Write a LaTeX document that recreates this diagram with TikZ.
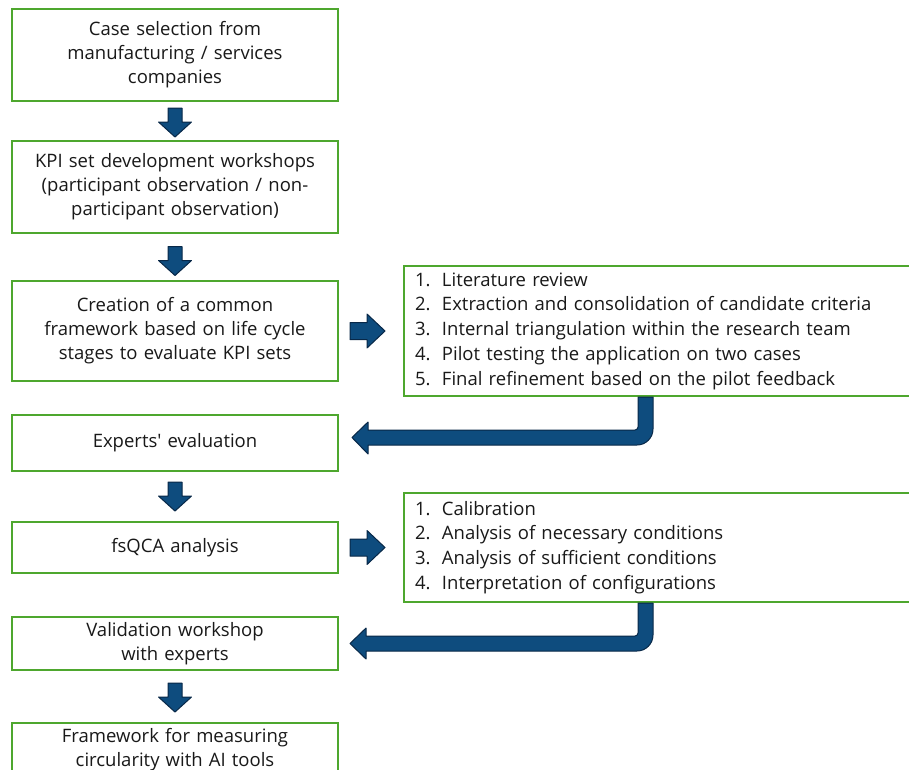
\documentclass[tikz,border=0pt]{standalone}
\usepackage{fontspec}
\setmainfont{Open Sans}
\usetikzlibrary{calc}
\definecolor{boxgreen}{RGB}{78,167,46}
\definecolor{arrblue}{RGB}{14,76,126}
\definecolor{arrline}{RGB}{8,40,72}
\definecolor{txt}{RGB}{25,25,25}
\tikzset{
  lbox/.style={draw=boxgreen, line width=2pt, fill=white, minimum width=326pt, text width=316pt,
    align=center, inner xsep=5pt, inner ysep=0pt, text=txt, font=\fontsize{18.5}{24}\selectfont},
  rbox/.style={draw=boxgreen, line width=2pt, fill=white, text width=488pt, inner xsep=11pt,
    inner ysep=0pt, align=left, text=txt, font=\fontsize{18.5}{24.75}\selectfont},
  blk/.style={fill=arrblue, draw=arrline, line width=1pt, line join=round}
}
\newcommand\itm[1]{\makebox[27pt][l]{#1}}
\newcommand\downblk[3]{%
  \path[blk] ($(#1.south)!0.5!(#2.north)+(0,#3)$) ++(-7,14.5) -- ++(14,0) -- ++(0,-14) -- ++(9.5,0)
    -- ++(-16.5,-15) -- ++(-16.5,15) -- ++(9.5,0) -- cycle;}
\newcommand\rightblk[3]{%
  \path[blk] ($(#1.east)!0.5!(#2.west)+(#3,0)$) ++(-17.5,8.5) -- ++(17,0) -- ++(0,8.5) -- ++(18,-17)
    -- ++(-18,-17) -- ++(0,8.5) -- ++(-17,0) -- cycle;}
\begin{document}
\begin{tikzpicture}[x=1pt,y=1pt]
\useasboundingbox (0,0) rectangle (909,-769);
% left column
\node[lbox, minimum height=92pt] (b1) at (175,-55) {Case selection from\\manufacturing / services\\companies};
\node[lbox, minimum height=92pt] (b2) at (175,-187) {KPI set development workshops\\(participant observation / non-\\participant observation)};
\node[lbox, minimum height=100pt] (b3) at (175,-331) {Creation of a common\\framework based on life cycle\\stages to evaluate KPI sets};
\node[lbox, minimum height=56pt] (b4) at (175,-443) {Experts\textquotesingle{} evaluation};
\node[lbox, minimum height=51pt] (b5) at (175,-547.5) {fsQCA analysis};
\node[lbox, minimum height=53pt] (b6) at (175,-643.5) {Validation workshop\\with experts};
\node[lbox, minimum height=54pt] (b7) at (175,-750) {Framework for measuring\\circularity with AI tools};
% right column
\node[rbox, minimum height=130pt] (ra) at (659,-331) {\itm{1.}Literature review\\\itm{2.}Extraction and consolidation of candidate criteria\\\itm{3.}Internal triangulation within the research team\\\itm{4.}Pilot testing the application on two cases\\\itm{5.}Final refinement based on the pilot feedback};
\node[rbox, minimum height=109pt] (rb) at (659,-547.5) {\itm{1.}Calibration\\\itm{2.}Analysis of necessary conditions\\\itm{3.}Analysis of sufficient conditions\\\itm{4.}Interpretation of configurations};
% down arrows
\downblk{b1}{b2}{-1.5}
\downblk{b2}{b3}{-4}
\downblk{b4}{b5}{0}
\downblk{b6}{b7}{-1}
% right arrows
\rightblk{b3}{ra}{-3.5}
\rightblk{b5}{rb}{-3.5}
% bent arrows
\path[blk] (ra.south -| 638,0) -- (ra.south -| 653,0) -- (653,-429) arc[start angle=0,end angle=-90,radius=16pt]
  -- (368,-445) -- (368,-454) -- (352,-437.5) -- (368,-422) -- (368,-430) -- (635,-430)
  arc[start angle=-90,end angle=0,radius=3pt] -- cycle;
\path[blk] (rb.south -| 638,0) -- (rb.south -| 653,0) -- (653,-635) arc[start angle=0,end angle=-90,radius=16pt]
  -- (366,-651) -- (366,-659) -- (350,-643.5) -- (366,-628) -- (366,-636) -- (635,-636)
  arc[start angle=-90,end angle=0,radius=3pt] -- cycle;
\end{tikzpicture}
\end{document}
